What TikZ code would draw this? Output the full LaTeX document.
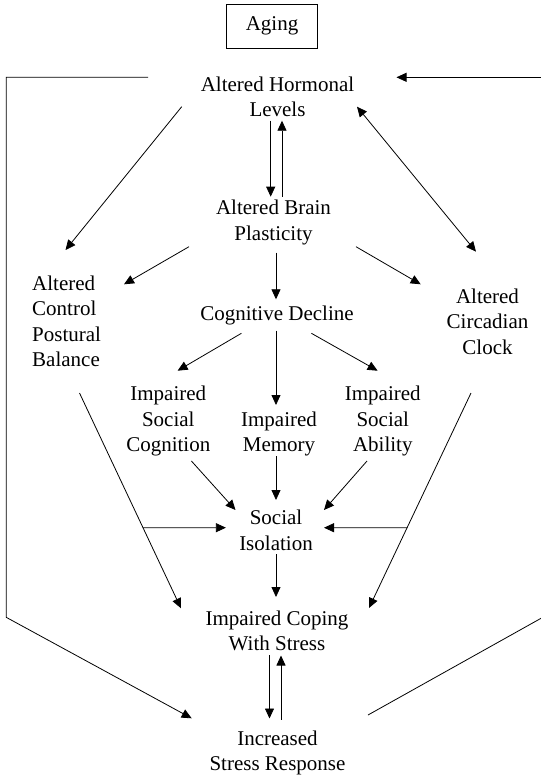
\documentclass[tikz,border=0pt]{standalone}
\usepackage{fontspec}
\setmainfont{Liberation Serif}
\usetikzlibrary{arrows.meta}
\begin{document}
\begin{tikzpicture}[x=1pt, y=-1pt,
  lbl/.style={inner sep=0pt, align=center, font=\fontsize{21}{25.4}\selectfont},
  conn/.style={line width=0.8pt},
  arr/.style={conn, -{Triangle[length=10pt,width=9pt]}},
  darr/.style={conn, {Triangle[length=10pt,width=9pt]}-{Triangle[length=10pt,width=9pt]}}]
\useasboundingbox (0,0) rectangle (541,780);

% boxes and labels (base anchor = baseline of the last line)
\node[draw, line width=0.8pt, minimum width=91pt, minimum height=44pt, inner sep=0pt,
      font=\fontsize{21}{25.4}\selectfont] (aging) at (272,26.3) {Aging};
\node[lbl, anchor=base] (hl)  at (277.5,116.5) {Altered Hormonal\\Levels};
\node[lbl, anchor=base] (bp)  at (273.5,240)   {Altered Brain\\Plasticity};
\node[lbl, anchor=base] (cd)  at (277,320.7)   {Cognitive Decline};
\node[lbl, anchor=base west, align=left] (acp) at (32,366.7) {Altered\\Control\\Postural\\Balance};
\node[lbl, anchor=base] (acc) at (487.5,354)   {Altered\\Circadian\\Clock};
\node[lbl, anchor=base] (isc) at (168.3,451.7) {Impaired\\Social\\Cognition};
\node[lbl, anchor=base] (im)  at (279,451.7)   {Impaired\\Memory};
\node[lbl, anchor=base] (isa) at (382.8,451.7) {Impaired\\Social\\Ability};
\node[lbl, anchor=base] (si)  at (276,550)     {Social\\Isolation};
\node[lbl, anchor=base] (ic)  at (277,650.5)   {Impaired Coping\\With Stress};
\node[lbl, anchor=base] (isr) at (277.5,770.7) {Increased\\Stress Response};

% corner points of the outer feedback loops
\coordinate (ltop) at (6.2,77.3);
\coordinate (lbot) at (6.2,617.3);
\coordinate (rtop) at (541,77.3);
\coordinate (rbot) at (541,618.3);

% hormonal level links
\draw[arr] ([shift={(-6.8,4.2)}]hl.base) -- ([shift={(-2.8,-43.3)}]bp.base);
\draw[arr] ([shift={(8.5,-43.3)}]bp.base) -- ([shift={(4.5,4.2)}]hl.base);
\draw[arr] ([shift={(-95.8,-9.8)}]hl.base) -- ([shift={(33.5,-116.7)}]acp.base west);
\draw[darr] ([shift={(79.5,-9.8)}]hl.base) -- ([shift={(-11.5,-102.3)}]acc.base);

% brain plasticity
\draw[arr] ([shift={(-84.5,6.7)}]bp.base) -- ([shift={(92,-82.4)}]acp.base west);
\draw[arr] ([shift={(2.5,12.7)}]bp.base) -- ([shift={(-1,-21.4)}]cd.base);
\draw[arr] ([shift={(82.5,6.7)}]bp.base) -- ([shift={(-66.8,-69.7)}]acc.base);

% cognitive decline
\draw[arr] ([shift={(-35.6,12.6)}]cd.base) -- ([shift={(9.3,-81)}]isc.base);
\draw[arr] ([shift={(-1,10)}]cd.base) -- ([shift={(-3,-46.7)}]im.base);
\draw[arr] ([shift={(34.4,12.6)}]cd.base) -- ([shift={(-5.2,-81)}]isa.base);

% into social isolation
\draw[arr] ([shift={(23.1,9.3)}]isc.base) -- ([shift={(-40.5,-40)}]si.base);
\draw[arr] ([shift={(-3,4.3)}]im.base) -- ([shift={(0,-50)}]si.base);
\draw[arr] ([shift={(-15.8,9.3)}]isa.base) -- ([shift={(48,-40)}]si.base);

% long diagonals to coping
\draw[arr] ([shift={(47.5,26.3)}]acp.base west) -- coordinate[pos=0.6256] (jl) ([shift={(-96,-42.2)}]ic.base);
\draw[arr] ([shift={(-16.5,39)}]acc.base) -- coordinate[pos=0.6265] (jr) ([shift={(92,-42.5)}]ic.base);
\draw[arr] (jl) -- ([shift={(-50.1,-22.3)}]si.base);
\draw[arr] (jr) -- ([shift={(48,-22.3)}]si.base);

% coping and stress response
\draw[arr] ([shift={(0,4)}]si.base) -- ([shift={(-1,-53.5)}]ic.base);
\draw[arr] ([shift={(-7.5,4.5)}]ic.base) -- ([shift={(-8,-52.2)}]isr.base);
\draw[arr] ([shift={(3.5,-51.2)}]isr.base) -- ([shift={(4,5)}]ic.base);

% outer loops
\draw[arr] ([shift={(-129.5,-39.2)}]hl.base) -- (ltop) -- (lbot) -- ([shift={(-85.8,-52.4)}]isr.base);
\draw[conn] ([shift={(90.5,-55.7)}]isr.base) -- (rbot);
\draw[arr] (rtop) -- ([shift={(119,-39.2)}]hl.base);
\end{tikzpicture}
\end{document}
